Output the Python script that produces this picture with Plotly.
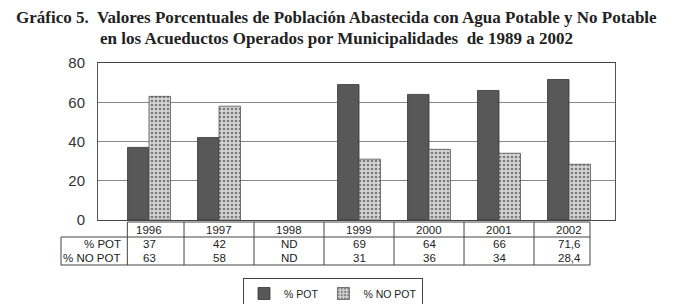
import plotly.graph_objects as go

years = ["1996", "1997", "1998", "1999", "2000", "2001", "2002"]
pct_pot = [37, 42, None, 69, 64, 66, 71.6]
pct_no_pot = [63, 58, None, 31, 36, 34, 28.4]
row_labels = ["% POT", "% NO POT"]
y_ticks = [0, 20, 40, 60, 80]
title_lines = [
    "Gráfico 5.  Valores Porcentuales de Población Abastecida con Agua Potable y No Potable",
    "en los Acueductos Operados por Municipalidades  de 1989 a 2002",
]


def fmt(v):
    if v is None:
        return "ND"
    if float(v).is_integer():
        return str(int(v))
    return f"{v:.1f}".replace(".", ",")


W, H = 691, 304
L, R, T, B = 98, 76, 63, 0
PLOT_BOTTOM = 220
pw = W - L - R
ph_paper = H - T - B
X0, X1 = -0.729, 6.657


def xp(i):
    # category index -> paper x, through the axis range
    return (i - X0) / (X1 - X0)


def xpx(px):
    return (px - L) / pw


def ypx(py):
    return (H - B - py) / ph_paper


fig = go.Figure()
fig.add_trace(go.Bar(
    x=years, y=pct_pot, name="% POT",
    marker=dict(color="#585858", line=dict(color="#333333", width=0.8)),
))
fig.add_trace(go.Bar(
    x=years, y=pct_no_pot, name="% NO POT",
    marker=dict(color="#d0d0d0", line=dict(color="#555555", width=0.8),
                pattern=dict(shape=".", size=4, solidity=0.35,
                             fgcolor="#222222", bgcolor="#d4d4d4")),
))

shapes = []
line = dict(color="#444444", width=1)
y_top = ypx(222)
y_mid = ypx(237)
y_bot = ypx(265)
x_left_lab = xpx(61)
x_first = xp(-0.31)
x_last = xp(6.3)
for b in [x_first] + [xp(i + 0.5) for i in range(len(years) - 1)] + [x_last]:
    shapes.append(dict(type="line", xref="paper", yref="paper",
                       x0=b, x1=b, y0=y_top, y1=y_bot, line=line))
shapes.append(dict(type="line", xref="paper", yref="paper",
                   x0=x_left_lab, x1=x_left_lab, y0=y_mid, y1=y_bot, line=line))
shapes.append(dict(type="line", xref="paper", yref="paper",
                   x0=x_left_lab, x1=x_last, y0=y_mid, y1=y_mid, line=line))
shapes.append(dict(type="line", xref="paper", yref="paper",
                   x0=x_left_lab, x1=x_last, y0=y_bot, y1=y_bot, line=line))
shapes.append(dict(type="line", xref="paper", yref="paper",
                   x0=x_first, x1=x_last, y0=y_top, y1=y_top, line=line))

ann = []
tfont = dict(family="Liberation Sans, Arial", size=11.5, color="#222222")
for i, yr in enumerate(years):
    ann.append(dict(x=xp(i), y=ypx(230), xref="paper", yref="paper", text=yr,
                    showarrow=False, font=tfont, xanchor="center", yanchor="middle"))
    ann.append(dict(x=xp(i), y=ypx(243.5), xref="paper", yref="paper", text=fmt(pct_pot[i]),
                    showarrow=False, font=tfont, xanchor="center", yanchor="middle"))
    ann.append(dict(x=xp(i), y=ypx(257.5), xref="paper", yref="paper", text=fmt(pct_no_pot[i]),
                    showarrow=False, font=tfont, xanchor="center", yanchor="middle"))
for lab, yy in zip(row_labels, [243.5, 257.5]):
    ann.append(dict(x=xpx(123), y=ypx(yy), xref="paper", yref="paper", text=lab,
                    showarrow=False, font=tfont, xanchor="right", yanchor="middle"))

title_font = dict(family="Liberation Serif, Times New Roman, serif", size=17,
                  color="#222222", weight="bold")
for txt, yy in zip(title_lines, [17, 39]):
    ann.append(dict(x=xpx(336), y=ypx(yy), xref="paper", yref="paper", text=txt,
                    showarrow=False, font=title_font, xanchor="center", yanchor="middle"))

fig.update_layout(
    width=W, height=H,
    margin=dict(l=L, r=R, t=T, b=B, autoexpand=False),
    paper_bgcolor="white", plot_bgcolor="white",
    barmode="group", bargap=0.386, bargroupgap=0,
    xaxis=dict(range=[X0, X1], showticklabels=False, ticks="", showgrid=False,
               showline=True, linecolor="#444444", linewidth=1, mirror=True,
               zeroline=False, fixedrange=True),
    yaxis=dict(range=[0, 80], tickvals=y_ticks, showgrid=True, gridcolor="#888888",
               domain=[ypx(PLOT_BOTTOM), 1],
               gridwidth=1, showline=True, linecolor="#555555", linewidth=1, mirror=True,
               zeroline=False, ticks="", ticklabelstandoff=9,
               tickfont=dict(family="Liberation Sans, Arial", size=15, color="#333333")),
    showlegend=True,
    legend=dict(orientation="h", x=xpx(333), y=ypx(278), xanchor="center", yanchor="top",
                bordercolor="#444444", borderwidth=1,
                font=dict(family="Liberation Sans, Arial", size=10.5, color="#222222"),
                itemwidth=30, tracegroupgap=0),
    shapes=shapes,
    annotations=ann,
)

fig.write_html("out.html", config={"displayModeBar": False},
               post_script="document.body.style.margin='0';document.body.style.overflow='hidden';")
